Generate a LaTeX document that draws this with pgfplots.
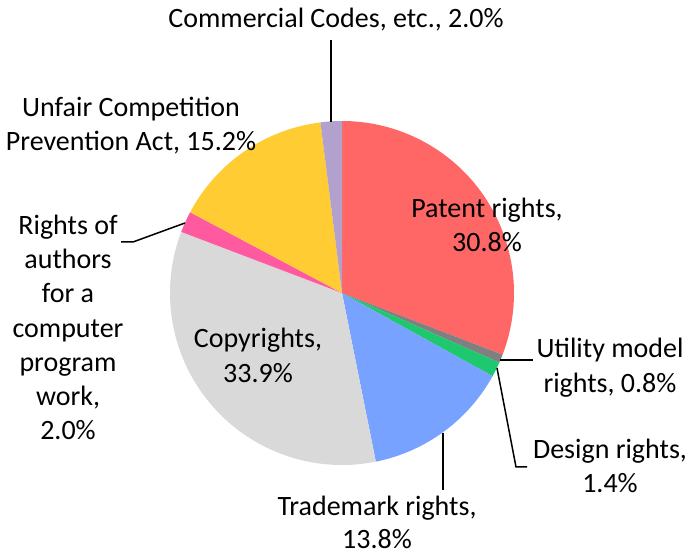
\documentclass[border=0pt]{standalone}
\usepackage{pgfplots}
\pgfplotsset{compat=1.18}
\usepackage{pgfplotstable}
\usepgfplotslibrary{polar}
\usepackage{fontspec}
\setmainfont{Carlito}

\definecolor{cPatent}{HTML}{FF6666}
\definecolor{cUtility}{HTML}{808080}
\definecolor{cDesign}{HTML}{1EC86E}
\definecolor{cTrademark}{HTML}{77A2FF}
\definecolor{cCopyright}{HTML}{D9D9D9}
\definecolor{cAuthors}{HTML}{FF5AA0}
\definecolor{cUnfair}{HTML}{FFCC33}
\definecolor{cCommercial}{HTML}{B1A1CC}

% share of cases (%), clockwise from 12 o'clock
\pgfplotstableread{
name value
Patent 30.8
Utility 0.8
Design 1.4
Trademark 13.8
Copyrights 33.9
Authors 2.0
Unfair 15.2
Commercial 2.0
}\pietable

\pgfplotstablegetrowsof{\pietable}
\pgfmathtruncatemacro\lastrow{\pgfplotsretval-1}
\gdef\pietotal{0}
\foreach \i in {0,...,\lastrow}{%
  \pgfplotstablegetelem{\i}{value}\of\pietable
  \pgfmathsetmacro\t{\pietotal+\pgfplotsretval}%
  \xdef\pietotal{\t}%
}
\gdef\cumsum{0}
\foreach \i in {0,...,\lastrow}{%
  \pgfplotstablegetelem{\i}{value}\of\pietable
  \pgfmathsetmacro\angS{90-(\cumsum/\pietotal)*360}%
  \pgfmathsetmacro\newcum{\cumsum+\pgfplotsretval}%
  \pgfmathsetmacro\angE{90-(\newcum/\pietotal)*360}%
  \expandafter\xdef\csname pieS\i\endcsname{\angS}%
  \expandafter\xdef\csname pieE\i\endcsname{\angE}%
  \xdef\cumsum{\newcum}%
}

\newcommand\slice[2]{%
  \edef\tmp{\noexpand\addplot[draw=none, fill=#2,
    domain=\csname pieE#1\endcsname:\csname pieS#1\endcsname, samples=90]
    {1} -- (axis cs:0,0) -- cycle;}\tmp}

\begin{document}
\begin{tikzpicture}
\path[use as bounding box] (0,0) rectangle (688pt,556pt);
\begin{polaraxis}[
  at={(342pt,263pt)}, anchor=center,
  scale only axis, width=344pt, height=344pt,
  xmin=0, xmax=360, ymin=0, ymax=1,
  hide axis, clip=false,
]
\slice{0}{cPatent}
\slice{1}{cUtility}
\slice{2}{cDesign}
\slice{3}{cTrademark}
\slice{4}{cCopyright}
\slice{5}{cAuthors}
\slice{6}{cUnfair}
\slice{7}{cCommercial}
\end{polaraxis}

\begin{scope}[x=1pt, y=-1pt, shift={(0pt,556pt)},
  every node/.style={anchor=base, inner sep=0pt, font=\fontsize{28}{34}\selectfont},
  lead/.style={line width=1.5pt, black}]
% leader lines
\draw[lead] (331,40) -- (331,122);
\draw[lead] (121,242) -- (133,242) -- (185,223);
\draw[lead] (500,360) -- (533,360);
\draw[lead] (497,368) -- (516,467) -- (527,467);
\draw[lead] (443,433) -- (443,490);
% labels
\node at (336,28) {Commercial Codes, etc., 2.0\%};
\node at (131,117) {Unfair Competition};
\node at (131,151) {Prevention Act, 15.2\%};
\node at (68,235) {Rights of};
\node at (68,269) {authors};
\node at (68,303) {for a};
\node at (68,338) {computer};
\node at (68,372) {program};
\node at (68,406) {work,};
\node at (68,440) {2.0\%};
\node at (487,218) {Patent rights,};
\node at (487,252) {30.8\%};
\node at (258,348) {Copyrights,};
\node at (258,383) {33.9\%};
\node at (610,358) {Utility model};
\node at (610,393) {rights, 0.8\%};
\node at (610,459) {Design rights,};
\node at (610,493) {1.4\%};
\node at (377,516) {Trademark rights,};
\node at (377,549) {13.8\%};
\end{scope}
\end{tikzpicture}
\end{document}
